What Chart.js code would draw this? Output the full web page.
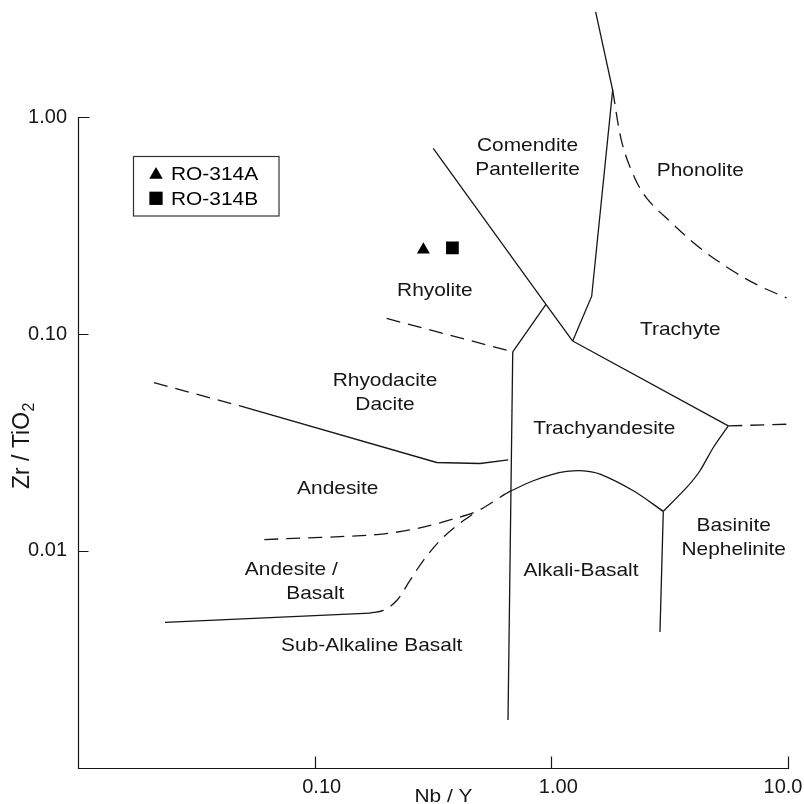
<!DOCTYPE html>
<html>
<head>
<meta charset="utf-8">
<script src="https://cdn.jsdelivr.net/npm/chart.js@4.4.0/dist/chart.umd.min.js"></script>
<style>
  html, body { margin: 0; padding: 0; background: #fff; }
  canvas { display: block; }
</style>
</head>
<body>
<canvas id="c" width="804" height="804"></canvas>
<script>
// Nb/Y vs Zr/TiO2 classification diagram (Winchester & Floyd type)

const xTicks = [0.1, 1, 10];
const xTickLabels = ['0.10', '1.00', '10.0'];
const yTicks = [0.01, 0.1, 1];
const yTickLabels = ['0.01', '0.10', '1.00'];

// Samples
const sampleNames = ['RO-314A', 'RO-314B'];
const sampleNbY = [0.288, 0.382];
const sampleZrTi = [0.245, 0.250];
const sampleSymbols = ['triangle', 'rect'];

// Field boundaries, [Nb/Y, Zr/TiO2]
const comenditeRhyolite = [[0.317, 0.720], [0.949, 0.137], [1.231, 0.0929]];
const rhyoliteTrachyandesite = [[0.949, 0.137], [0.687, 0.0829]];
const alkaliBasaltWest = [[0.687, 0.0829], [0.656, 0.00166]];
const rhyoliteRhyodacite = [[0.2015, 0.1181], [0.687, 0.0829]];
const rhyodaciteAndesiteDash = [[0.02095, 0.0597], [0.04836, 0.04661]];
const rhyodaciteAndesite = [[0.04836, 0.04661], [0.3279, 0.02557], [0.4995, 0.0253], [0.658, 0.02631]];
const andesiteBasaltDash = [[0.06126, 0.01127], [0.1829, 0.01189], [0.2786, 0.01276], [0.3853, 0.01404], [0.4837, 0.01521], [0.637, 0.01826]];
const subalkalineAlkaline = [[0.637, 0.01826], [0.669, 0.01881], [0.839, 0.02106], [0.987, 0.02238], [1.161, 0.02324], [1.365, 0.02341], [1.606, 0.02261], [2.22, 0.01894], [2.972, 0.01521]];
const basaltSolid = [[0.02331, 0.004677], [0.1713, 0.005163]];
const basaltDash = [[0.1713, 0.005163], [0.195, 0.00531], [0.2221, 0.0059], [0.2528, 0.0073], [0.2877, 0.00902], [0.3385, 0.01115], [0.3982, 0.01307], [0.4837, 0.01521]];
const trachyteTrachyandesite = [[1.231, 0.0929], [5.594, 0.03772]];
const trachyteBasaniteDash = [[5.594, 0.03772], [10.0, 0.03841]];
const trachyandesiteBasanite = [[5.594, 0.03772], [4.834, 0.02998], [4.248, 0.02342], [3.733, 0.01962], [2.972, 0.01521]];
const alkaliBasanite = [[2.972, 0.01521], [2.878, 0.004221]];
const comenditeTrachyte = [[1.539, 3.064], [1.816, 1.337], [1.481, 0.1496], [1.231, 0.0929]];
const phonoliteTrachyteDash = [[1.816, 1.337], [1.983, 0.7729], [2.22, 0.5431], [2.528, 0.4239], [3.172, 0.3311], [4.248, 0.2495], [5.873, 0.195], [7.615, 0.1663], [9.87, 0.1469]];

// Field names and their anchor points in data space
const fieldNames = [
  ['Comendite', 'Pantellerite'],
  ['Phonolite'],
  ['Rhyolite'],
  ['Trachyte'],
  ['Rhyodacite', 'Dacite'],
  ['Trachyandesite'],
  ['Andesite'],
  ['Andesite /'],
  ['Basalt'],
  ['Alkali-Basalt'],
  ['Basinite', 'Nephelinite'],
  ['Sub-Alkaline Basalt']
];
const fieldNbY = [0.793, 4.26, 0.3219, 3.507, 0.1982, 1.673, 0.1252, 0.0797, 0.1006, 1.335, 5.896, 0.1742];
const fieldZrTi = [0.659, 0.5744, 0.1611, 0.1066, 0.0543, 0.03733, 0.01976, 0.00829, 0.00643, 0.0082, 0.01174, 0.003705];

const FONT = '"Liberation Sans", Arial, Helvetica, sans-serif';
const INK = '#161616';
const DASH = [14, 8];
// horizontal nudges for the Nb/Y tick labels (px)
const xTickLabelShift = [7, 7, -5];

const toXY = arr => arr.map(p => ({ x: p[0], y: p[1] }));

const boundaries = [
  { data: comenditeRhyolite, dashed: false, curve: 0 },
  { data: rhyoliteTrachyandesite, dashed: false, curve: 0 },
  { data: alkaliBasaltWest, dashed: false, curve: 0 },
  { data: rhyoliteRhyodacite, dashed: true, curve: 0 },
  { data: rhyodaciteAndesiteDash, dashed: true, curve: 0 },
  { data: rhyodaciteAndesite, dashed: false, curve: 0 },
  { data: andesiteBasaltDash, dashed: true, curve: 0.3 },
  { data: subalkalineAlkaline, dashed: false, curve: 0.35 },
  { data: basaltSolid, dashed: false, curve: 0 },
  { data: basaltDash, dashed: true, curve: 0.35 },
  { data: trachyteTrachyandesite, dashed: false, curve: 0 },
  { data: trachyteBasaniteDash, dashed: true, curve: 0 },
  { data: trachyandesiteBasanite, dashed: false, curve: 0.2 },
  { data: alkaliBasanite, dashed: false, curve: 0 },
  { data: comenditeTrachyte, dashed: false, curve: 0 },
  { data: phonoliteTrachyteDash, dashed: true, curve: 0.35 }
];

const datasets = boundaries.map(b => ({
  type: 'line',
  data: toXY(b.data),
  borderColor: INK,
  borderWidth: 1.3,
  borderDash: b.dashed ? DASH : [],
  tension: b.curve,
  pointRadius: 0,
  fill: false,
  order: 2
}));

sampleNames.forEach((name, i) => {
  datasets.push({
    type: 'scatter',
    label: name,
    data: [{ x: sampleNbY[i], y: sampleZrTi[i] }],
    pointStyle: sampleSymbols[i],
    pointRadius: sampleSymbols[i] === 'rect' ? 9 : 7.5,
    backgroundColor: '#000',
    borderColor: '#000',
    borderWidth: 0,
    order: 1
  });
});

function stretchedText(ctx, text, x, y, align) {
  // Horizontally widened glyphs, drawn about the anchor
  const sx = 1.1;
  ctx.save();
  ctx.translate(x, y);
  ctx.scale(sx, 1);
  ctx.textAlign = align || 'center';
  ctx.fillText(text, 0, 0);
  ctx.restore();
}

function drawSymbol(ctx, style, x, y, r) {
  ctx.beginPath();
  if (style === 'triangle') {
    ctx.moveTo(x, y - r);
    ctx.lineTo(x + r * Math.sqrt(3) / 2, y + r / 2);
    ctx.lineTo(x - r * Math.sqrt(3) / 2, y + r / 2);
    ctx.closePath();
  } else {
    const s = r * Math.SQRT1_2;
    ctx.rect(x - s, y - s, 2 * s, 2 * s);
  }
  ctx.fill();
}

const framePlugin = {
  id: 'frame',
  afterDraw(chart) {
    const ctx = chart.ctx;
    const xs = chart.scales.x, ys = chart.scales.y;
    const left = Math.round(xs.getPixelForValue(xs.min)) + 0.5;
    const right = Math.round(xs.getPixelForValue(10)) + 0.5;
    const bottom = Math.round(ys.getPixelForValue(ys.min)) + 0.5;
    const top = Math.round(ys.getPixelForValue(1)) + 0.5;

    ctx.save();
    ctx.strokeStyle = INK;
    ctx.lineWidth = 1.2;
    ctx.beginPath();
    ctx.moveTo(left + 11, top);
    ctx.lineTo(left, top);
    ctx.lineTo(left, bottom);
    ctx.lineTo(right, bottom);
    ctx.lineTo(right, bottom - 12);
    yTicks.forEach(v => {
      if (v === 1) return;
      const py = Math.round(ys.getPixelForValue(v)) + 0.5;
      ctx.moveTo(left, py);
      ctx.lineTo(left + 10, py);
    });
    xTicks.forEach(v => {
      if (v === 10) return;
      const px = Math.round(xs.getPixelForValue(v)) + 0.5;
      ctx.moveTo(px, bottom);
      ctx.lineTo(px, bottom - 12);
    });
    ctx.stroke();

    // Nb/Y tick labels
    ctx.fillStyle = INK;
    ctx.font = '20px ' + FONT;
    ctx.textAlign = 'center';
    ctx.textBaseline = 'alphabetic';
    xTicks.forEach((v, i) => {
      ctx.fillText(xTickLabels[i], xs.getPixelForValue(v) + xTickLabelShift[i], bottom + 24.5);
    });

    // Field names
    ctx.font = '19px ' + FONT;
    const lineGap = 24;
    fieldNames.forEach((lines, i) => {
      const px = xs.getPixelForValue(fieldNbY[i]);
      const py = ys.getPixelForValue(fieldZrTi[i]);
      const y0 = py - (lines.length - 1) * lineGap / 2;
      lines.forEach((t, k) => stretchedText(ctx, t, px, y0 + k * lineGap + 6.8, 'center'));
    });

    // Axis titles
    stretchedText(ctx, 'Nb / Y', 443.5, 802, 'center');
    ctx.save();
    ctx.translate(29, 446);
    ctx.rotate(-Math.PI / 2);
    ctx.font = '23px ' + FONT;
    const main = 'Zr / TiO';
    const wMain = ctx.measureText(main).width;
    ctx.font = '16px ' + FONT;
    const wSub = ctx.measureText('2').width;
    const start = -(wMain + wSub) / 2;
    ctx.font = '23px ' + FONT;
    ctx.textAlign = 'left';
    ctx.fillText(main, start, 0);
    ctx.font = '16px ' + FONT;
    ctx.fillText('2', start + wMain + 0.5, 5);
    ctx.restore();

    // Sample key
    ctx.strokeStyle = '#333';
    ctx.lineWidth = 1.2;
    ctx.strokeRect(133.5, 156.5, 145.5, 59.5);
    ctx.fillStyle = '#000';
    ctx.font = '19px ' + FONT;
    sampleNames.forEach((name, i) => {
      const cy = 173.3 + i * 25;
      drawSymbol(ctx, sampleSymbols[i], 156, cy + (sampleSymbols[i] === 'triangle' ? 1.5 : 0), sampleSymbols[i] === 'rect' ? 9.4 : 7.8);
      stretchedText(ctx, name, 171, cy + 6.8, 'left');
    });
    ctx.restore();
  }
};

new Chart(document.getElementById('c'), {
  data: { datasets },
  options: {
    responsive: false,
    animation: false,
    devicePixelRatio: 1,
    layout: { padding: { top: 7, right: 16, left: 0, bottom: 0 } },
    plugins: { legend: { display: false }, tooltip: { enabled: false } },
    scales: {
      x: {
        type: 'logarithmic',
        position: 'bottom',
        min: 0.01,
        max: 10,
        grid: { display: false, drawTicks: false },
        border: { display: false },
        afterBuildTicks: s => { s.ticks = xTicks.map(v => ({ value: v })); },
        afterFit: s => { s.height = 36.4; s.paddingLeft = 0; s.paddingRight = 0; },
        ticks: { display: false, autoSkip: false, maxRotation: 0 }
      },
      y: {
        type: 'logarithmic',
        position: 'left',
        min: 0.001,
        max: Math.pow(10, 0.5),
        grid: { display: false, drawTicks: false },
        border: { display: false },
        afterBuildTicks: s => { s.ticks = yTicks.map(v => ({ value: v })); },
        afterFit: s => { s.width = 78; s.paddingTop = 0; s.paddingBottom = 0; },
        ticks: {
          autoSkip: false, padding: 11, color: INK,
          font: { family: FONT, size: 20 },
          callback: v => yTickLabels[yTicks.indexOf(v)]
        }
      }
    }
  },
  plugins: [framePlugin]
});
</script>
</body>
</html>
